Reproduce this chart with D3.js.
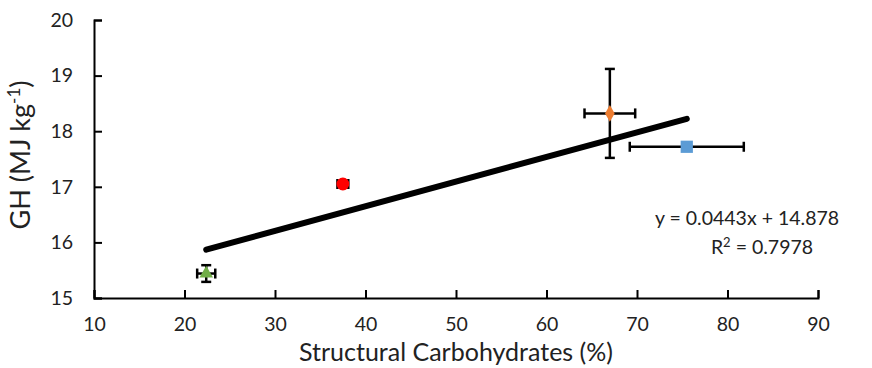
<!DOCTYPE html>
<html><head><meta charset="utf-8">
<script src="https://cdn.jsdelivr.net/npm/d3@7"></script>
<style>body{margin:0;background:#fff}text{font-family:Lato,"Open Sans",sans-serif}</style>
</head><body><svg id="c" width="872" height="368"></svg>
<script>
const names = ["green","red","orange","blue"];
const xVals = [22.4, 37.5, 67.0, 75.5];
const yVals = [15.44, 17.05, 18.32, 17.72];
const xErr = [1.0, 0.6, 2.8, 6.3];
const yErr = [0.15, 0.05, 0.80, 0.0];
const shapes = ["triangle","circle","diamond","square"];
const colors = ["#70ad47","#ff0000","#ed7d31","#5b9bd5"];
const xTicks = [10,20,30,40,50,60,70,80,90];
const yTicks = [15,16,17,18,19,20];
const slope = 0.0443, intercept = 14.878;

const svg = d3.select("#c");
const x = d3.scaleLinear().domain([10,90]).range([94,818]);
const y = d3.scaleLinear().domain([15,20]).range([298,20]);

const gx = svg.append("g").attr("transform","translate(0,298)")
  .call(d3.axisBottom(x).tickValues(xTicks).tickFormat(d3.format("d")).tickSizeInner(-8).tickSizeOuter(-8).tickPadding(19));
const gy = svg.append("g").attr("transform","translate(94,0)")
  .call(d3.axisLeft(y).tickValues(yTicks).tickFormat(d3.format("d")).tickSizeInner(-8).tickSizeOuter(-8).tickPadding(21));
[gx,gy].forEach(g=>{
  g.select(".domain").attr("stroke","#000").attr("stroke-width",2);
  g.selectAll(".tick line").attr("stroke","#000").attr("stroke-width",2);
  g.selectAll(".tick text").attr("font-size",19.5).attr("fill","#222").attr("font-family","Lato");
});

svg.append("text").attr("x",456).attr("y",361).attr("text-anchor","middle")
  .attr("font-size",25).attr("fill","#222").text("Structural Carbohydrates (%)");
const yt = svg.append("text").attr("transform","translate(30,155) rotate(-90)")
  .attr("text-anchor","middle").attr("font-size",27).attr("fill","#222");
yt.append("tspan").text("GH (MJ kg");
yt.append("tspan").attr("dy",-10).attr("font-size",17).text("-1");
yt.append("tspan").attr("dy",10).text(")");

// trend line
const x0 = d3.min(xVals), x1 = d3.max(xVals);
svg.append("line").attr("x1",x(x0)).attr("y1",y(slope*x0+intercept))
  .attr("x2",x(x1)).attr("y2",y(slope*x1+intercept))
  .attr("stroke","#000").attr("stroke-width",6).attr("stroke-linecap","round");

// error bars
const cap = 5;
names.forEach((n,i)=>{
  const g = svg.append("g").attr("stroke","#000").attr("stroke-width",2.5);
  if (xErr[i]>0){
    g.append("line").attr("x1",x(xVals[i]-xErr[i])).attr("x2",x(xVals[i]+xErr[i])).attr("y1",y(yVals[i])).attr("y2",y(yVals[i]));
    [-1,1].forEach(s=>g.append("line").attr("x1",x(xVals[i]+s*xErr[i])).attr("x2",x(xVals[i]+s*xErr[i])).attr("y1",y(yVals[i])-cap).attr("y2",y(yVals[i])+cap));
  }
  if (yErr[i]>0){
    g.append("line").attr("y1",y(yVals[i]-yErr[i])).attr("y2",y(yVals[i]+yErr[i])).attr("x1",x(xVals[i])).attr("x2",x(xVals[i]));
    [-1,1].forEach(s=>g.append("line").attr("y1",y(yVals[i]+s*yErr[i])).attr("y2",y(yVals[i]+s*yErr[i])).attr("x1",x(xVals[i])-cap).attr("x2",x(xVals[i])+cap));
  }
});

// markers
const symMap = {triangle:[d3.symbolTriangle,80], circle:[d3.symbolCircle,130], diamond:[d3.symbolDiamond,80], square:[d3.symbolSquare,150]};
names.forEach((n,i)=>{
  const [t,s] = symMap[shapes[i]];
  svg.append("path").attr("d",d3.symbol(t,s)())
    .attr("transform",`translate(${x(xVals[i])},${y(yVals[i])})`)
    .attr("fill",colors[i]);
});

svg.append("text").attr("x",747).attr("y",225).attr("text-anchor","middle").attr("font-size",19.5).attr("fill","#222")
  .text(`y = ${slope}x + ${intercept}`);
const r = svg.append("text").attr("x",762).attr("y",254).attr("text-anchor","middle").attr("font-size",19.5).attr("fill","#222");
r.append("tspan").text("R");
r.append("tspan").attr("dy",-7).attr("font-size",13).text("2");
r.append("tspan").attr("dy",7).text(" = 0.7978");
</script></body></html>
